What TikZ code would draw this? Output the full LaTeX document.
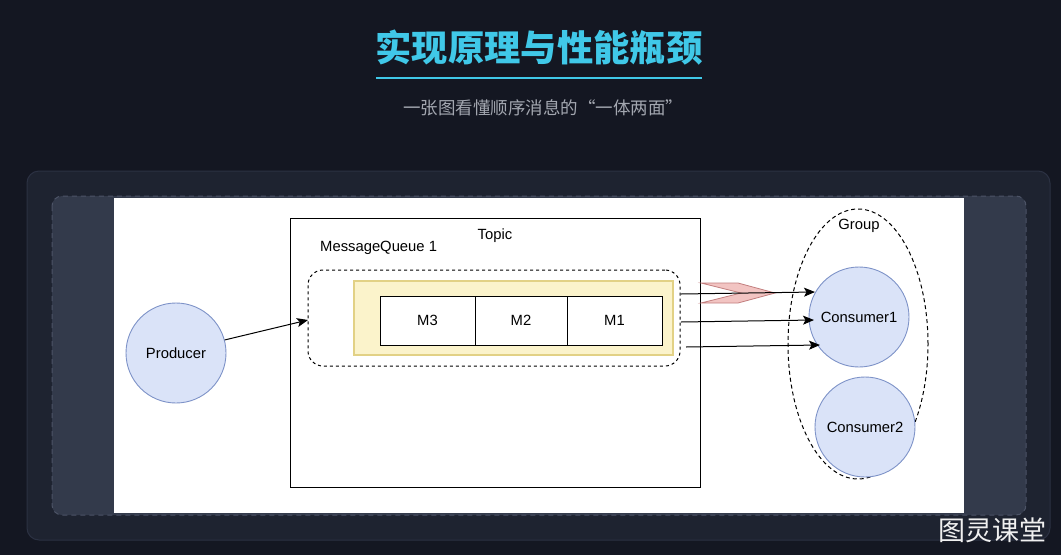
\documentclass[tikz,border=0pt]{standalone}
\usepackage{fontspec}
\setmainfont{Liberation Sans}
\newfontfamily\cjk{Noto Sans CJK SC}
\usetikzlibrary{arrows.meta,shapes.geometric}
\definecolor{bg}{HTML}{141722}
\definecolor{cardfill}{HTML}{1E2330}
\definecolor{cardline}{HTML}{2B3142}
\definecolor{panelfill}{HTML}{333A4B}
\definecolor{panelline}{HTML}{4C5366}
\definecolor{cyanT}{HTML}{40C8E8}
\definecolor{subgray}{HTML}{A3A7B0}
\definecolor{nodefill}{HTML}{DAE3F8}
\definecolor{nodeline}{HTML}{7E93C8}
\definecolor{yfill}{HTML}{FBF3CB}
\definecolor{yline}{HTML}{E2D185}
\definecolor{pinkfill}{HTML}{F2C4C2}
\definecolor{pinkline}{HTML}{C27E7E}
\tikzset{
  lbl/.style={font=\fontsize{14.8}{17}\selectfont, text=black, inner sep=0pt},
  actor/.style={circle, draw=nodeline, fill=nodefill, line width=0.9pt, minimum size=100pt, inner sep=0pt, lbl},
  msgbox/.style={draw=black, line width=1pt, fill=white, minimum height=49pt, inner sep=0pt, lbl},
  conn/.style={draw=black, line width=1pt, -{Stealth[length=11pt,width=9pt,inset=2.5pt]}},
}
\begin{document}
\begin{tikzpicture}[x=1pt,y=-1pt]
\useasboundingbox (0,0) rectangle (1061,555);
\fill[bg] (0,0) rectangle (1061,555);
% title
\node[text=cyanT, font=\cjk\bfseries\fontsize{36.3}{40}\selectfont, inner sep=0pt] (title) at (539,48) {实现原理与性能瓶颈};
\draw[cyanT, line width=2.2pt] (376,78) -- (702,78);
\node[text=subgray, font=\cjk\fontsize{17.5}{20}\selectfont, inner sep=0pt] (subtitle) at (543,108) {一张图看懂顺序消息的“一体两面”};
% card and panel
\draw[fill=cardfill, draw=cardline, line width=1pt, rounded corners=12pt] (27,171) rectangle (1050,540);
\draw[fill=panelfill, draw=panelline, line width=1pt, dashed, dash pattern=on 5pt off 4pt, rounded corners=10pt] (52,196) rectangle (1026,515);
\fill[white] (114,198) rectangle (964,513);
% Topic
\node[draw=black, line width=1pt, minimum width=410pt, minimum height=269pt, inner sep=0pt] (topic) at (495,352.5) {};
\node[lbl] (topiclbl) at (495,236) {Topic};
\node[lbl, anchor=west] (mqlbl) at (320,248) {MessageQueue 1};
% queue box
\node[draw=black, line width=1pt, dashed, dash pattern=on 3pt off 3pt, rounded corners=15pt, minimum width=372pt, minimum height=96pt, inner sep=0pt] (mq) at (494,318) {};
\node[draw=yline, fill=yfill, line width=1.2pt, minimum width=319pt, minimum height=74pt, inner sep=0pt] (yel) at (513.5,318) {};
\node[msgbox, minimum width=95pt] (m3) at (427.5,320.5) {M3};
\node[msgbox, minimum width=92pt] (m2) at (521,320.5) {M2};
\node[msgbox, minimum width=95pt] (m1) at (614.5,320.5) {M1};
% producer
\node[actor] (producer) at (176,353) {Producer};
% group
\node[ellipse, draw=black, line width=1pt, dashed, dash pattern=on 4pt off 3pt, minimum width=140pt, minimum height=270pt, inner sep=0pt] (group) at (858,344) {};
\node[lbl] (grouplbl) at (859,226) {Group};
\node[actor] (c1) at (859,317) {Consumer1};
\node[actor] (c2) at (865,427) {Consumer2};
% chevron
\draw[draw=pinkline, fill=pinkfill, line width=0.8pt] (701,283) -- (738,283) -- (775,293) -- (738,303) -- (701,303) -- (741,293) -- cycle;
% connectors
\coordinate (pin) at (308,320);
\draw[conn] (producer.15) -- (pin);
\coordinate (o1) at (681,294);
\coordinate (o2) at (681,322);
\coordinate (o3) at (686,347);
\coordinate (e1) at (815,292);
\coordinate (e2) at (814,320);
\coordinate (e3) at (820,345);
\draw[conn] (o1) -- (e1);
\draw[conn] (o2) -- (e2);
\draw[conn] (o3) -- (e3);
% watermark
\node[text=white!88!gray, font=\cjk\fontsize{27}{30}\selectfont, inner sep=0pt] (wm) at (992,530) {图灵课堂};
\end{tikzpicture}
\end{document}
